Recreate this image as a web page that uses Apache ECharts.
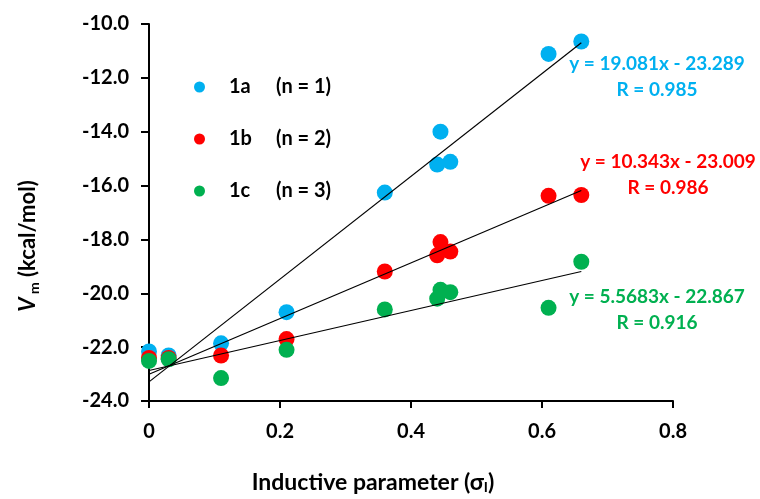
<!DOCTYPE html>
<html><head><meta charset="utf-8">
<script src="https://cdn.jsdelivr.net/npm/echarts@6/dist/echarts.min.js"></script>
<style>html,body{margin:0;padding:0;background:#fff}#c{width:760px;height:499px}</style>
</head><body><div id="c"></div>
<script>
// Data
const sigmaI = [0, 0.03, 0.11, 0.21, 0.36, 0.44, 0.445, 0.46, 0.61, 0.66];
const vm1a = [-22.16, -22.31, -21.86, -20.7, -16.26, -15.22, -14.0, -15.12, -11.11, -10.65];
const vm1b = [-22.4, -22.4, -22.31, -21.7, -19.19, -18.59, -18.1, -18.45, -16.38, -16.35];
const vm1c = [-22.51, -22.45, -23.15, -22.1, -20.6, -20.2, -19.87, -19.96, -20.54, -18.83];
const seriesNames = ['1a', '1b', '1c'];
const seriesNotes = ['(n = 1)', '(n = 2)', '(n = 3)'];
const slopes = [19.081, 10.343, 5.5683];
const intercepts = [-23.289, -23.009, -22.867];
const rValues = ['0.985', '0.986', '0.916'];
const fitRange = [0, 0.66];
const xTicks = [0, 0.2, 0.4, 0.6, 0.8];
const yTicks = [-24, -22, -20, -18, -16, -14, -12, -10];

const colors = ['#00B0F0', '#FF0000', '#00B050'];
const FONT = 'Lato';
const vmData = [vm1a, vm1b, vm1c];

const chart = echarts.init(document.getElementById('c'), null, {renderer: 'canvas'});

const series = [];
vmData.forEach((arr, i) => {
  series.push({
    name: seriesNames[i],
    type: 'scatter',
    symbol: 'circle',
    symbolSize: 16,
    itemStyle: {color: colors[i], opacity: 1},
    z: 2 + i,
    data: sigmaI.map((x, k) => [x, arr[k]])
  });
});
slopes.forEach((s, i) => {
  series.push({
    name: 'fit' + i,
    type: 'line',
    symbol: 'none',
    silent: true,
    z: 10,
    lineStyle: {color: '#000', width: 1.2},
    data: fitRange.map(x => [x, s * x + intercepts[i]])
  });
});

const annX = [657, 668, 657];
const annY = [64, 162, 297];
const graphics = [];
slopes.forEach((s, i) => {
  graphics.push({
    type: 'text', x: annX[i], y: annY[i],
    style: {text: 'y = ' + s + 'x - ' + Math.abs(intercepts[i]).toFixed(3),
      fill: colors[i], font: 'bold 19px ' + FONT, textAlign: 'center', textVerticalAlign: 'middle'}
  });
  graphics.push({
    type: 'text', x: annX[i], y: annY[i] + 26,
    style: {text: 'R = ' + rValues[i],
      fill: colors[i], font: 'bold 19px ' + FONT, textAlign: 'center', textVerticalAlign: 'middle'}
  });
});
// y-axis title (rotated, with italic V and subscript m)
graphics.push({
  type: 'text', x: 28, y: 246, rotation: Math.PI / 2,
  style: {
    text: '{v|V}{m| m}{t| (kcal/mol)}',
    fill: '#000', textAlign: 'center', textVerticalAlign: 'middle',
    rich: {
      v: {fontFamily: FONT, fontWeight: 'bold', fontStyle: 'italic', fontSize: 22, lineHeight: 26, verticalAlign: 'middle', fill: '#000'},
      m: {fontFamily: FONT, fontWeight: 'bold', fontSize: 14, lineHeight: 14, verticalAlign: 'bottom', fill: '#000'},
      t: {fontFamily: FONT, fontWeight: 'bold', fontSize: 22, lineHeight: 26, verticalAlign: 'middle', fill: '#000'}
    }
  }
});

const option = {
  animation: false,
  backgroundColor: '#fff',
  grid: {left: 149, top: 24, right: 87, bottom: 94, containLabel: false},
  xAxis: {
    type: 'value', min: 0, max: 0.8, interval: 0.2,
    axisLine: {show: true, onZero: false, lineStyle: {color: '#000', width: 2}},
    axisTick: {show: true, length: 7, lineStyle: {color: '#000', width: 2}},
    splitLine: {show: false},
    axisLabel: {color: '#000', fontFamily: FONT, fontWeight: 'bold', fontSize: 20, margin: 21,
      formatter: v => (v === 0 ? '0' : v.toFixed(1))},
    name: 'Inductive parameter (σ{s|I})',
    nameLocation: 'middle', nameGap: 70,
    nameTextStyle: {color: '#000', fontFamily: FONT, fontWeight: 'bold', fontSize: 23, padding: [0, 76, 0, 0],
      rich: {s: {fontFamily: FONT, fontWeight: 'bold', fontSize: 14, verticalAlign: 'bottom', lineHeight: 14}}}
  },
  yAxis: {
    type: 'value', min: -24, max: -10, interval: 2,
    axisLine: {show: true, onZero: false, lineStyle: {color: '#000', width: 2}},
    axisTick: {show: true, length: 8, lineStyle: {color: '#000', width: 2}},
    splitLine: {show: false},
    axisLabel: {color: '#000', fontFamily: FONT, fontWeight: 'bold', fontSize: 20, margin: 20,
      formatter: v => v.toFixed(1)}
  },
  legend: {
    orient: 'vertical', left: 189, top: 72, itemGap: 32, itemWidth: 11, itemHeight: 11,
    icon: 'circle', data: seriesNames, selectedMode: false,
    formatter: name => '{a|' + name + '}{b|' + seriesNotes[seriesNames.indexOf(name)] + '}',
    textStyle: {color: '#000', fontFamily: FONT, fontWeight: 'bold', fontSize: 20,
      rich: {
        a: {fontFamily: FONT, fontWeight: 'bold', fontSize: 20, width: 47, padding: [0, 0, 0, 19], lineHeight: 21},
        b: {fontFamily: FONT, fontWeight: 'bold', fontSize: 20, lineHeight: 21}
      }}
  },
  graphic: graphics,
  series: series
};
chart.setOption(option);
</script>
</body></html>
